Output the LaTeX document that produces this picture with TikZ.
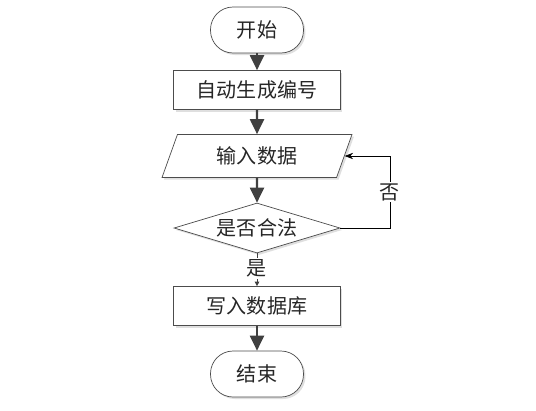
\documentclass[tikz,border=0pt]{standalone}
\usepackage{fontspec}
\setmainfont{Noto Sans CJK SC}
\usetikzlibrary{arrows.meta,shapes.geometric,shadows,positioning}

\begin{document}
\begin{tikzpicture}[x=0.02cm,y=-0.02cm,>=Stealth,
    every node/.style={font=\fontsize{11.4}{13}\selectfont,text=black!85},
    boxshadow/.style={drop shadow={shadow xshift=0.04cm,shadow yshift=-0.04cm,fill=black!18,opacity=0.7}},
    terminal/.style={draw=black!70,fill=white,rounded corners=0.45cm,minimum width=1.86cm,minimum height=0.92cm,boxshadow},
    procbox/.style={draw=black!70,fill=white,minimum width=3.34cm,minimum height=0.78cm,boxshadow},
    iobox/.style={trapezium,trapezium left angle=63,trapezium right angle=117,trapezium stretches body,
      draw=black!70,fill=white,minimum width=3.8cm,minimum height=0.86cm,boxshadow},
    decision/.style={diamond,shape aspect=3.3,inner sep=0pt,draw=black!70,fill=white,
      minimum width=3.32cm,minimum height=1.0cm,boxshadow},
    flow/.style={-{Triangle[length=0.3cm,width=0.28cm]},line width=1.2pt,black!75},
    loopline/.style={->,thin,black},
    yesline/.style={-{Triangle[length=0.09cm,width=0.09cm]},thin,black!75},
    lbl/.style={fill=white,inner sep=1pt}]
  \useasboundingbox (0,0) rectangle (536,410);

  \node[terminal] (start) at (257,30) {开始};
  \node[procbox] (autonum) at (257,90) {自动生成编号};
  \node[iobox] (input) at (257,156) {输入数据};
  \node[decision] (check) at (257,228) {是否合法};
  \node[procbox] (write) at (257,306) {写入数据库};
  \node[terminal] (stop) at (257,374) {结束};
  \coordinate (loopc) at (390,228);

  \draw[flow] (start) -- (autonum);
  \draw[flow] (autonum) -- (input);
  \draw[flow] (input) -- (check);
  \draw[yesline] (check.south) -- node[lbl,pos=0.45] {是} (write.north);
  \draw[flow] (write) -- (stop);
  \draw[loopline] (check.east) -- (loopc) |- node[lbl,pos=0.25] {否} (input.east);
\end{tikzpicture}
\end{document}
